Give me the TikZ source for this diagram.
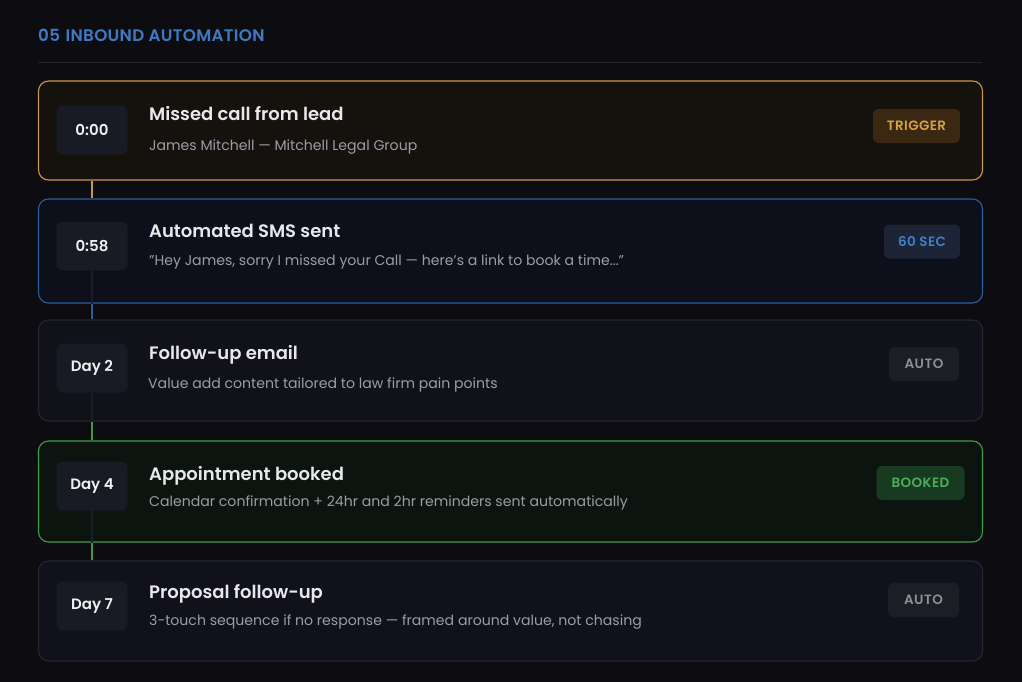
\documentclass[tikz,border=0pt]{standalone}
\usepackage{fontspec}
\setmainfont{Poppins}[BoldFont={Poppins SemiBold}]
\definecolor{bg}{HTML}{0D0C11}
\definecolor{headblue}{HTML}{3B7BC6}
\definecolor{divider}{HTML}{23242D}
\definecolor{orangeB}{HTML}{C8983A}
\definecolor{orangeF}{HTML}{15110C}
\definecolor{blueB}{HTML}{2C5D9C}
\definecolor{blueF}{HTML}{0D101B}
\definecolor{greyB}{HTML}{25262E}
\definecolor{greyF}{HTML}{111219}
\definecolor{greyF5}{HTML}{10111B}
\definecolor{greenB}{HTML}{3D9C4C}
\definecolor{greenF}{HTML}{0B140F}
\definecolor{timebg}{HTML}{181B23}
\definecolor{timetxt}{HTML}{F0F0F2}
\definecolor{titletxt}{HTML}{E8E8EC}
\definecolor{subtxt}{HTML}{9B9CA5}
\definecolor{trigF}{HTML}{3A2812}
\definecolor{trigT}{HTML}{D8A33E}
\definecolor{secF}{HTML}{1C2436}
\definecolor{secT}{HTML}{3D80CC}
\definecolor{autoF}{HTML}{1C1E26}
\definecolor{autoT}{HTML}{8D8F99}
\definecolor{bookF}{HTML}{173A20}
\definecolor{bookT}{HTML}{4FAE5C}
\definecolor{faint}{HTML}{1C1D25}
\begin{document}
\begin{tikzpicture}[x=1pt,y=-1pt,
  card/.style={draw, rounded corners=10pt, line width=1.1pt, minimum width=944pt, inner sep=0pt},
  tbox/.style={fill=timebg, rounded corners=6pt, minimum width=71pt, minimum height=49pt, inner sep=0pt, text=timetxt, font=\fontsize{15}{17}\selectfont\bfseries},
  ttl/.style={anchor=base west, inner sep=0pt, text=titletxt, font=\fontsize{18}{21}\selectfont\bfseries},
  sub/.style={anchor=base west, inner sep=0pt, text=subtxt, font=\fontsize{14.1}{17}\selectfont},
  badge/.style={rounded corners=5pt, minimum height=34pt, inner sep=0pt, font=\fontsize{13.5}{15}\selectfont\bfseries\addfontfeature{LetterSpace=3}},
  conn/.style={line width=2pt},
  faintconn/.style={line width=1.2pt, draw=faint}
]
\fill[bg] (0,0) rectangle (1022,682);
\useasboundingbox (0,0) rectangle (1022,682);

% header
\node[anchor=base west, inner sep=0pt, text=headblue, font=\fontsize{16.7}{19}\selectfont\bfseries\addfontfeature{LetterSpace=2}] (head) at (38,41.7) {05\,\,INBOUND AUTOMATION};
\coordinate (divL) at (38,63);
\coordinate (divR) at (982,63);
\draw[divider, line width=1pt] (divL) -- (divR);

% cards
\node[card, draw=orangeB, fill=orangeF, minimum height=99pt] (c1) at (510.5,130.5) {};
\node[card, draw=blueB, fill=blueF, minimum height=104pt] (c2) at (510.5,251) {};
\node[card, draw=greyB, fill=greyF, minimum height=101pt] (c3) at (510.5,370.5) {};
\node[card, draw=greenB, fill=greenF, minimum height=101pt] (c4) at (510.5,491.5) {};
\node[card, draw=greyB, fill=greyF5, minimum height=100pt] (c5) at (510.5,611) {};

% time boxes
\node[tbox] (t1) at (92,130) {0:00};
\node[tbox] (t2) at (92,246) {0:58};
\node[tbox] (t3) at (92,368) {Day 2};
\node[tbox] (t4) at (92,486) {Day 4};
\node[tbox] (t5) at (92,606) {Day 7};

% connectors
\draw[conn, draw=orangeB] (t1.south |- c1.south) -- (t1.south |- c2.north);
\draw[conn, draw=blueB] (t2.south |- c2.south) -- (t2.south |- c3.north);
\draw[conn, draw=greenB] (t3.south |- c3.south) -- (t3.south |- c4.north);
\draw[conn, draw=greenB] (t4.south |- c4.south) -- (t4.south |- c5.north);
\draw[faintconn] (t2.south) -- (t2.south |- c2.south);
\draw[faintconn] (t3.south) -- (t3.south |- c3.south);
\draw[faintconn] (t4.south) -- (t4.south |- c4.south);

% titles and subtitles
\node[ttl] (h1) at (149,121) {Missed call from lead};
\node[sub] (s1) at (149,150) {James Mitchell — Mitchell Legal Group};
\node[ttl] (h2) at (149,237) {Automated SMS sent};
\node[sub] (s2) at (149,265) {"Hey James, sorry I missed your Call — here's a link to book a time..."};
\node[ttl] (h3) at (149,359) {Follow-up email};
\node[sub] (s3) at (148,388) {Value add content tailored to law firm pain points};
\node[ttl] (h4) at (149,480) {Appointment booked};
\node[sub] (s4) at (149,506) {Calendar confirmation + 24hr and 2hr reminders sent automatically};
\node[ttl] (h5) at (149,598) {Proposal follow-up};
\node[sub] (s5) at (149,625) {3-touch sequence if no response — framed around value, not chasing};

% badges
\node[badge, fill=trigF, text=trigT, minimum width=87pt] (b1) at (916.5,126) {TRIGGER};
\node[badge, fill=secF, text=secT, minimum width=76pt] (b2) at (922,241.5) {60 SEC};
\node[badge, fill=autoF, text=autoT, minimum width=70pt] (b3) at (924,364) {AUTO};
\node[badge, fill=bookF, text=bookT, minimum width=88pt] (b4) at (920.5,483) {BOOKED};
\node[badge, fill=autoF, text=autoT, minimum width=71pt] (b5) at (923.5,600) {AUTO};
\end{tikzpicture}
\end{document}
